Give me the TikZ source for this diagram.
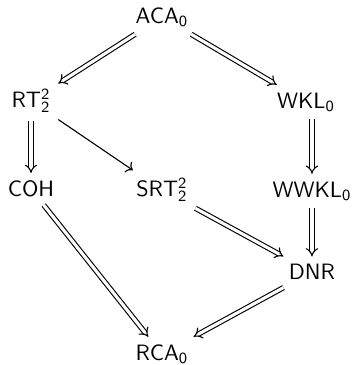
\documentclass[tikz,border=0pt]{standalone}
\usepackage{amsmath}
\usetikzlibrary{arrows.meta}
\tikzset{sysnode/.style={font=\sffamily},
    strongarrow/.style={double,line width=0.5pt,double distance=1.4pt,-{Implies[scale=1.3]}},
    weakarrow/.style={line width=0.5pt,->}
}

\begin{document}
\begin{tikzpicture}[x=0.45pt,y=-0.45pt]

\useasboundingbox (0,0) rectangle (355,365);

\node (aca) at (162,17) [sysnode] {$\mathsf{ACA_0}$};
\node (rt) at (31,101) [sysnode] {$\mathsf{RT^2_2}$};
\node (wkl) at (306,102) [sysnode] {$\mathsf{WKL_0}$};
\node (coh) at (31,189) [sysnode] {COH};
\node (srt) at (162,190) [sysnode] {$\mathsf{SRT^2_2}$};
\node (wwkl) at (312,191) [sysnode] {$\mathsf{WWKL_0}$};
\node (dnr) at (312,272) [sysnode] {DNR};
\node (rca) at (162,354) [sysnode] {$\mathsf{RCA_0}$};

\draw [strongarrow] (aca) -- (rt);
\draw [strongarrow] (aca) -- (wkl);
\draw [strongarrow] (rt.south) -- (coh.north);
\draw [weakarrow] (rt) -- (srt);
\draw [strongarrow] (wkl.south -| wwkl.north) -- (wwkl.north);
\draw [strongarrow] (wwkl.south) -- (dnr.north);
\draw [strongarrow] (srt) -- (dnr);
\draw [strongarrow] (coh) -- (rca);
\draw [strongarrow] (dnr) -- (rca);

\end{tikzpicture}
\end{document}
